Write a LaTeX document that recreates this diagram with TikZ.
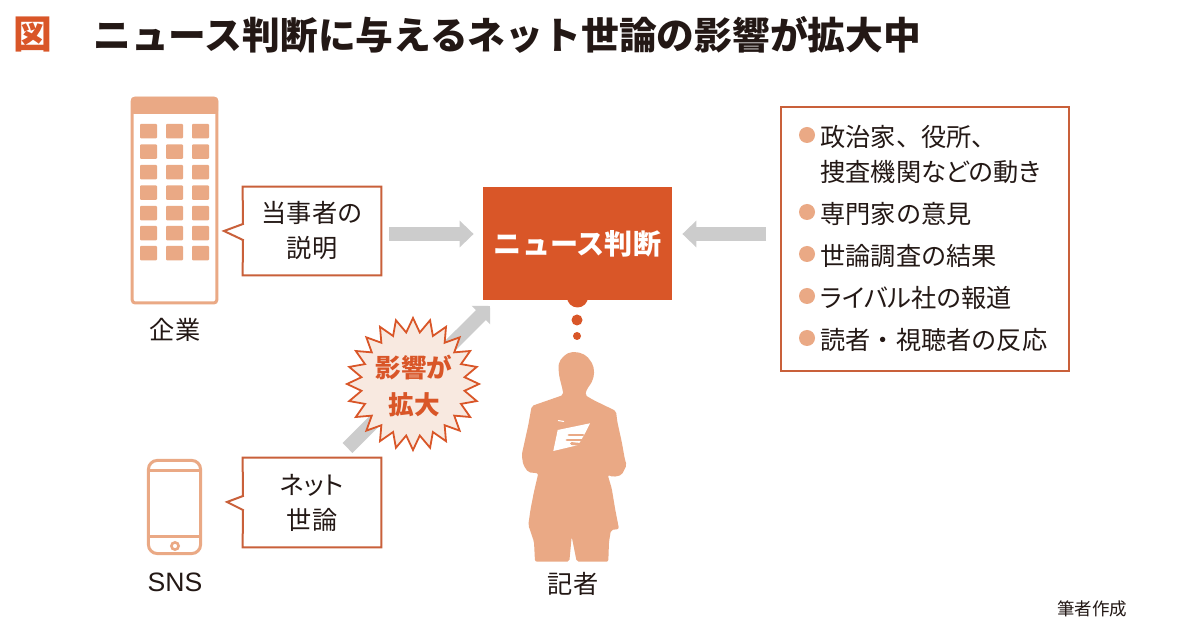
\documentclass[tikz,border=0pt]{standalone}
\usepackage{fontspec}
\setmainfont{Noto Sans CJK JP}
\newfontfamily\palted[RawFeature=+palt]{Noto Sans CJK JP}
\newfontfamily\latinfont{Liberation Sans}
\usetikzlibrary{arrows.meta,shapes.geometric,backgrounds}
\definecolor{inkc}{HTML}{231815}
\definecolor{peach}{HTML}{EAA985}
\definecolor{frameor}{HTML}{C9603A}
\definecolor{strongor}{HTML}{D95628}
\definecolor{burstfill}{HTML}{F8E9E0}
\definecolor{greyarrow}{HTML}{CCCCCC}
\newcommand{\fsz}[1]{\fontsize{#1}{17.5}\selectfont}
\tikzset{
  lab/.style={inner sep=0pt,text=inkc,font=\fsz{12.6},align=center},
  listtxt/.style={lab,anchor=west,align=left},
  callout/.style={inner sep=0pt,text=inkc,font=\fsz{12.6},align=center,minimum width=69pt,minimum height=44pt},
  framed/.style={draw=frameor,line width=1pt,fill=white,line join=miter},
  blockarrow/.style={draw=greyarrow,line width=7pt,-{Triangle[length=7pt,width=13pt,fill=greyarrow]}},
  dot/.style={circle,fill=peach,inner sep=0pt,minimum size=8pt},
  thought/.style={circle,fill=strongor,inner sep=0pt},
  win/.style={fill=peach,rounded corners=0.5pt},
  icon/.style={draw=peach,line width=1.5pt},
}
\begin{document}
\begin{tikzpicture}[x=0.5pt,y=-0.5pt]
\useasboundingbox (0,0) rectangle (1200,630);
\begin{pgfonlayer}{background}
\fill[white] (0,0) rectangle (1200,630);
\end{pgfonlayer}
% title
\node[inner sep=0pt,text=strongor,font=\bfseries\fsz{19.4}] (zu) at (32.5,35) {図};
\node[inner sep=0pt,text=inkc,font=\bfseries\fsz{18.88},anchor=west] (title) at (93,35) {ニュース判断に与えるネット世論の影響が拡大中};
% building
\draw[icon,rounded corners=1.5pt] (132.2,98.2) rectangle (216.8,303);
\fill[peach,rounded corners=1.5pt] (131,97) rectangle (218,114);
\foreach \yy in {124,144.5,165,185.5,206,226,246}
  \foreach \xx in {140,166,192}
    \fill[win] (\xx,\yy) rectangle ++(17,14.5);
\node[lab] (firm) at (175,330) {企業};
% phone
\draw[icon,rounded corners=4.5pt] (148.4,460.4) rectangle (200.6,553.6);
\draw[icon] (148.4,471) -- (200.6,471);
\draw[icon] (148.4,537) -- (200.6,537);
\draw[draw=peach,line width=1.3pt] (175,546) circle (3.6);
\node[inner sep=0pt,text=inkc,font=\latinfont\fsz{13.3}] (sns) at (175,582) {SNS};
% callouts
\node[callout] (talk) at (312,231) {当事者の\\説明};
\node[callout,minimum height=44.5pt] (net) at (312,502.5) {{\palted ネット}\\世論};
\begin{pgfonlayer}{background}
\draw[framed] (talk.north west) -- (talk.north east) -- (talk.south east) -- (talk.south west) -- (243,240) -- (224,231) -- (243,224) -- cycle;
\draw[framed] (net.north west) -- (net.north east) -- (net.south east) -- (net.south west) -- (243,510) -- (227,502) -- (243,496) -- cycle;
\end{pgfonlayer}
% news box
\node[thought,minimum size=10.5pt] (t1) at (577.5,297) {};
\node[fill=strongor,inner sep=0pt,minimum width=94.5pt,minimum height=56.5pt,text=white,font=\bfseries\fsz{14.05}] (news) at (577.5,243.5) {ニュース判断};
\node[thought,minimum size=5.5pt] (t2) at (577,320) {};
\node[thought,minimum size=4pt] (t3) at (577,336) {};
% list box
\node[framed,draw,inner sep=0pt,minimum width=144pt,minimum height=132pt] (list) at (925,239) {};
\node[dot] (d1) at (807,135) {};
\node[dot] (d2) at (807,212) {};
\node[dot] (d3) at (807,254) {};
\node[dot] (d4) at (807,296) {};
\node[dot] (d5) at (807,338) {};
\node[listtxt] (i1) at (820,154.5) {政治家、役所、\\{捜査機関\palted などの動き}};
\node[listtxt] (i2) at (820,214) {専門家の意見};
\node[listtxt] (i3) at (820,256) {世論調査の結果};
\node[listtxt] (i4) at (820,298) {{\palted ライバル}社の報道};
\node[listtxt] (i5) at (820,340) {読者・視聴者の反応};
% arrows
\coordinate (ay) at (0,234);
\coordinate (diagstart) at (347.5,448);
\coordinate (diagend) at (490,306);
\draw[blockarrow,shorten <=4pt,shorten >=4.5pt] (talk.east |- ay) -- (news.west |- ay);
\draw[blockarrow,shorten <=7pt,shorten >=5pt] (list.west |- ay) -- (news.east |- ay);
\draw[draw=greyarrow,line width=7pt,-{Triangle[length=6.4pt,width=12.7pt,fill=greyarrow]}] (diagstart) -- (diagend);
% burst
\node[star,star points=24,star point ratio=1.27,minimum size=66pt,inner sep=0pt,draw=strongor,fill=burstfill,line width=0.9pt,miter limit=4] (burst) at (413,384) {};
\node[inner sep=0pt,text=strongor,font=\bfseries\fsz{12.8}] (b1) at (414,368) {影響が};
\node[inner sep=0pt,text=strongor,font=\bfseries\fsz{12.8}] (b2) at (414,405) {拡大};
% person
\fill[peach,rounded corners=1pt]
 (562.7,390) -- (559.3,376.7) -- (558.3,366.7) -- (559.5,361.5) -- (561.7,358.3) -- (565.5,354.5) -- (570,352.3) -- (576,352) -- (581.7,353.3) -- (586.5,356) -- (590,360) -- (593,365) -- (594,370) -- (594,375) -- (592.7,380) -- (590.5,384.5) -- (587.3,388.3) -- (585,395)
 -- (593.3,400) -- (616,411) -- (617.3,421.7) -- (621.7,441.7) -- (625,460) -- (626.7,465) -- (621.7,475) -- (613.3,477) -- (607.7,475) -- (611.7,488.3) -- (615,508.3) -- (619,529)
 -- (611,530) -- (609,541.7) -- (608.3,561.7) -- (576.7,561.7) -- (571.7,536.7) -- (569.3,561.7) -- (535,561.7) -- (534,541.7) -- (528.3,525) -- (530.7,508.3) -- (534,491.7) -- (538.3,473.3)
 -- (528.3,472.3) -- (523.3,465) -- (521.7,455) -- (528.3,425) -- (531.7,406) -- (563.3,395) -- cycle;
\fill[white] (557.7,430) -- (590,423.3) -- (585,433.3) -- (578.3,445) -- (553.3,451) -- cycle;
\draw[peach,line width=1.4pt,line cap=round] (583,435) -- (569,435);
\draw[peach,line width=1.4pt,line cap=round] (583,440) -- (567,440);
\draw[peach,line width=1.4pt,line cap=round] (581,444.5) -- (571.5,443.5);
\draw[white,line width=0.5pt] (558,420.5) -- (564,421.5);
\node[lab] (rep) at (573,584) {記者};
\node[inner sep=0pt,text=inkc,font=\fsz{8.75}] (credit) at (1092,609) {筆者作成};
\end{tikzpicture}
\end{document}
